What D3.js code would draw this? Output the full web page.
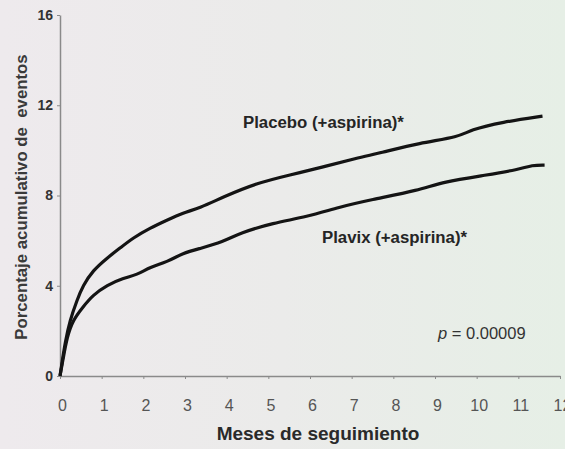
<!DOCTYPE html>
<html><head><meta charset="utf-8">
<script src="https://cdn.jsdelivr.net/npm/d3@7"></script>
<style>html,body{margin:0;padding:0;background:#ece9eb;}svg{display:block;}</style>
</head><body>
<script>
const xTicks = [0,1,2,3,4,5,6,7,8,9,10,11,12];
const yTicks = [0,4,8,12,16];
const placeboMonths = [0,0.05,0.12,0.24,0.41,0.55,0.79,1.13,1.44,1.75,2.16,2.57,2.95,3.36,3.91,4.72,5.52,6.31,7.12,7.67,8.63,9.59,9.83,10.62,11.58];
const placeboPct    = [0,0.6,1.46,2.48,3.37,4.0,4.68,5.23,5.67,6.12,6.56,6.91,7.23,7.45,7.93,8.55,8.91,9.26,9.66,9.88,10.33,10.6,10.9,11.26,11.52];
const plavixMonths  = [0,0.07,0.17,0.31,0.55,0.79,1.13,1.51,1.85,2.16,2.57,2.95,3.36,3.91,4.32,5.11,5.92,6.71,7.43,8.63,9.18,10.24,11.0,11.34,11.63];
const plavixPct     = [0,0.71,1.73,2.48,3.06,3.59,4.03,4.34,4.48,4.83,5.05,5.45,5.65,5.94,6.34,6.78,7.05,7.49,7.80,8.24,8.60,8.91,9.15,9.35,9.35];
const labels = {placebo:"Placebo (+aspirina)*", plavix:"Plavix (+aspirina)*", xTitle:"Meses de seguimiento", yTitle:"Porcentaje acumulativo de\u00a0 eventos"};

const W=565,H=449;
const svg=d3.select("body").append("svg").attr("width",W).attr("height",H);
const defs=svg.append("defs");
const g=defs.append("linearGradient").attr("id","bg").attr("x1","0").attr("x2","1").attr("y1","0").attr("y2","0");
g.append("stop").attr("offset","0").attr("stop-color","#eeeaed");
g.append("stop").attr("offset","0.5").attr("stop-color","#ebebea");
g.append("stop").attr("offset","1").attr("stop-color","#e6efe6");
svg.append("rect").attr("width",W).attr("height",H).attr("fill","url(#bg)");

const x=d3.scaleLinear().domain([0,12]).range([60,560]);
const y=d3.scaleLinear().domain([0,16]).range([376,15]);
const font="Arial, 'Liberation Sans', sans-serif";

const xAxis=svg.append("g").attr("transform","translate(0,376)")
  .call(d3.axisBottom(x).tickValues(xTicks).tickSize(3).tickSizeOuter(0).tickPadding(21));
xAxis.select(".domain").attr("stroke","#8a8a8a").attr("stroke-width",1.5);
xAxis.selectAll(".tick line").attr("stroke","#8a8a8a");
xAxis.selectAll(".tick text").attr("font-family",font).attr("font-size",16).attr("fill","#555").attr("dx",2);

const yAxis=svg.append("g").attr("transform","translate(60,0)")
  .call(d3.axisLeft(y).tickValues(yTicks).tickSize(3).tickSizeOuter(0).tickPadding(4));
yAxis.select(".domain").attr("stroke","#8a8a8a").attr("stroke-width",1.5);
yAxis.selectAll(".tick line").attr("stroke","#8a8a8a");
yAxis.selectAll(".tick text").attr("font-family",font).attr("font-size",14).attr("font-weight","bold").attr("fill","#333");

const line=d3.line().x(d=>x(d[0])).y(d=>y(d[1])).curve(d3.curveBasis);
const pl=placeboMonths.map((m,i)=>[m,placeboPct[i]]);
const cl=plavixMonths.map((m,i)=>[m,plavixPct[i]]);
[pl,cl].forEach(d=>svg.append("path").datum(d).attr("d",line).attr("fill","none")
  .attr("stroke","#141414").attr("stroke-width",3.2).attr("stroke-linejoin","round"));

svg.append("text").attr("x",243).attr("y",128).attr("font-family",font).attr("font-size",16.8).attr("font-weight","bold").attr("fill","#252525").text(labels.placebo);
svg.append("text").attr("x",322).attr("y",243).attr("font-family",font).attr("font-size",16.8).attr("font-weight","bold").attr("fill","#252525").text(labels.plavix);
const pt=svg.append("text").attr("x",438).attr("y",339).attr("font-family",font).attr("font-size",16.5).attr("fill","#333");
pt.append("tspan").attr("font-style","italic").text("p");
pt.append("tspan").text(" = 0.00009");

svg.append("text").attr("x",318).attr("y",440).attr("text-anchor","middle").attr("font-family",font).attr("font-size",19).attr("font-weight","bold").attr("fill","#2a2a2a").text(labels.xTitle);
svg.append("text").attr("transform","translate(27,197) rotate(-90)").attr("text-anchor","middle").attr("font-family",font).attr("font-size",16.8).attr("font-weight","bold").attr("fill","#3a3a3a").text(labels.yTitle);
</script>
</body></html>
